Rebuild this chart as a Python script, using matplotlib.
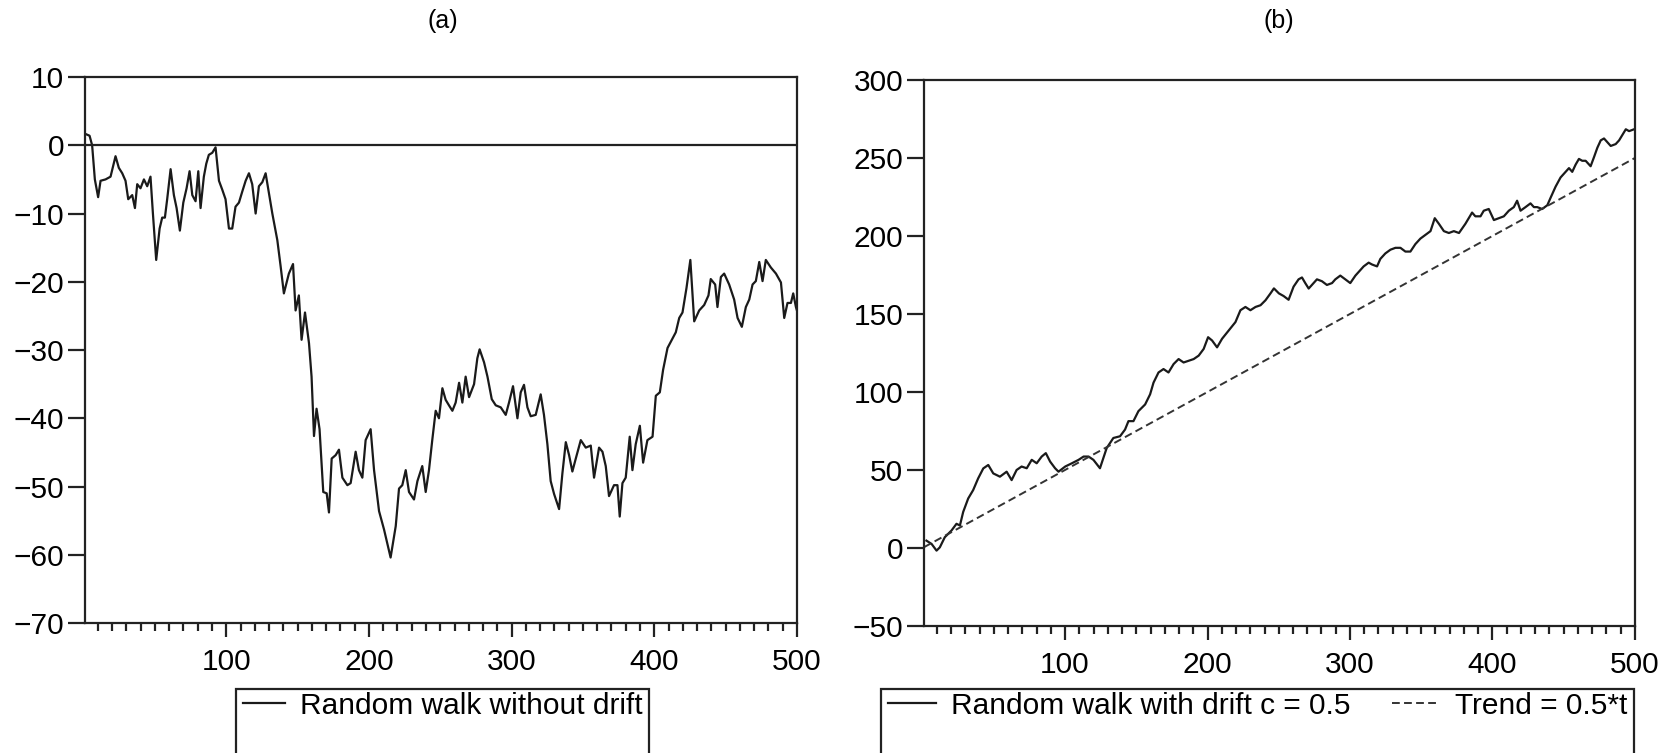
import numpy as np
import matplotlib
matplotlib.use('Agg')
import matplotlib.pyplot as plt
from matplotlib.patches import Rectangle
from matplotlib.transforms import IdentityTransform

plt.rcParams['font.family'] = ['Liberation Sans', 'DejaVu Sans']

# (a) random walk without drift
t_a = [2, 4.2, 6.0, 7.9, 10.2, 11.9, 15.4, 18.9, 22.4, 24.7, 27.1, 29.4, 31.3, 34.1, 36.0,
       37.6, 39.9, 42.3, 44.6, 46.9, 48.6, 50.9, 53.3, 55.1, 57.0, 58.6, 61.0, 63.3, 65.2,
       67.5, 69.9, 72.2, 74.3, 76.2, 78.5, 80.4, 82.0, 84.3, 86.0, 87.8, 90.2, 92.5, 94.9,
       97.2, 99.5, 101.9, 104.2, 106.5, 108.9, 111.2, 113.6, 115.9, 118.2, 120.6, 122.9,
       125.3, 127.6, 132.3, 135.8, 138.1, 140.4, 143.9, 146.8, 148.6, 150.9, 152.8, 155.2,
       158.0, 159.8, 161.5, 163.3, 165.4, 168.0, 170.4, 172.0, 173.9, 176.7, 179.0, 181.4,
       184.9, 187.2, 190.7, 193.0, 195.4, 197.7, 201.2, 203.6, 207.1, 210.6, 215.2, 218.8,
       221.1, 223.4, 225.8, 228.1, 231.6, 234.0, 237.4, 239.8, 242.1, 244.4, 246.8, 249.1,
       251.5, 253.8, 256.1, 258.5, 260.8, 263.2, 265.5, 267.8, 270.2, 273.7, 276.0, 277.6,
       280.7, 283.1, 286.1, 288.9, 292.4, 295.9, 298.2, 301.0, 304.1, 306.4, 308.7, 311.1,
       313.4, 316.9, 320.4, 322.7, 325.1, 327.4, 329.8, 333.3, 335.6, 338.0, 340.3, 342.6,
       345.0, 348.5, 352.0, 355.5, 357.8, 361.3, 363.7, 366.0, 368.3, 371.8, 374.2, 375.8,
       377.7, 380.0, 382.8, 384.7, 387.0, 389.9, 392.2, 395.2, 398.8, 401.1, 403.9, 406.2,
       409.3, 412.3, 415.1, 417.5, 419.8, 422.6, 425.3, 428.0, 431.5, 435.0, 438.0, 439.6,
       442.7, 444.3, 446.7, 449.0, 452.5, 456.0, 458.4, 461.4, 464.2, 466.6, 468.9, 471.2,
       473.6, 475.9, 478.2, 481.7, 485.3, 488.8, 491.1, 493.4, 495.8, 497.4, 499.3, 500]
y_a = [1.6, 1.4, 0, -5, -7.6, -5.2, -5, -4.6, -1.6, -3.3, -4.1, -5.2, -7.9, -7.3, -9.2,
       -5.7, -6.3, -5, -6, -4.6, -10, -16.8, -12.2, -10.6, -10.6, -7.9, -3.5, -7.3, -9.2,
       -12.5, -8.4, -6.3, -3.8, -7.3, -8.2, -3.8, -9.2, -4.6, -2.7, -1.4, -1.1, -0.3, -5.2,
       -6.5, -7.9, -12.2, -12.2, -9, -8.4, -6.8, -5.2, -4.1, -5.7, -10, -6,
       -5.4, -4.1, -10, -13.9, -17.7, -21.7, -18.8, -17.4, -24.2, -22, -28.5, -24.5,
       -29, -33.9, -42.6, -38.6, -41.6, -50.8, -51, -53.8, -45.9, -45.4, -44.6, -48.7,
       -49.8, -49.5, -44.9, -47.6, -48.7, -43.2, -41.6, -47.6, -53.6, -56.3, -60.4, -55.8,
       -50.3, -49.8, -47.6, -50.8, -51.9, -49.2, -47, -50.8, -47.6, -43.2, -38.9, -40,
       -35.6, -37.3, -38.1, -38.9, -37.7, -34.8, -37.7, -33.9, -36.9, -35, -31.2, -29.9,
       -31.8, -33.9, -37.2, -38.1, -38.4, -39.5, -37.7, -35.3, -40, -36.2, -35.1, -38.4,
       -39.7, -39.5, -36.5, -39.5, -43.8, -49.2, -51.1, -53.3, -48.1, -43.5, -45.4, -47.8,
       -45.9, -43.2, -44.3, -44, -48.7, -44.3, -44.9, -47, -51.4, -49.8, -49.8, -54.4,
       -49.5, -48.7, -42.7, -47.6, -43.8, -41.1, -46.5, -43.2, -42.7, -36.7, -36.2, -32.9,
       -29.7, -28.5, -27.4, -25.3, -24.5, -20.9, -16.8, -25.8, -24.2, -23.4, -22, -19.6,
       -20.4, -23.7, -19.3, -18.8, -20.4, -22.6, -25.3, -26.6, -23.7, -22.6, -20.4, -19.9,
       -17.1, -19.9, -16.8, -17.9, -18.8, -20.1, -25.3, -23.1, -23.1, -21.7, -23.7, -24.2]

# (b) random walk with drift c = 0.5
t_b = [2.7, 6.3, 9.8, 12.1, 15.6, 20.3, 23.8, 26.2, 28.5, 32.0, 35.5, 39.0, 42.6, 46.1,
       49.6, 54.3, 59.0, 62.5, 66.0, 69.5, 73.1, 76.6, 80.1, 83.6, 86.5, 89.5, 93.0, 95.4,
       100.1, 104.8, 109.5, 113.0, 116.5, 119.9, 124.5, 129.2, 133.9, 138.6, 142.1, 144.5,
       148.0, 151.5, 156.2, 159.7, 162.1, 165.6, 169.1, 172.6, 176.2, 179.7, 183.2, 186.7,
       190.3, 193.8, 197.3, 200.4, 203.2, 206.7, 210.2, 214.9, 219.6, 223.1, 226.6, 230.1,
       233.7, 237.2, 240.7, 244.2, 246.6, 250.1, 253.4, 256.9, 260.4, 263.9, 266.3, 268.6,
       271.0, 274.5, 276.8, 280.3, 283.8, 287.4, 289.7, 293.2, 296.7, 300.2, 303.8, 307.3,
       309.6, 313.1, 315.5, 319.0, 321.3, 324.8, 328.4, 331.9, 335.4, 338.9, 342.4, 345.9,
       349.4, 352.9, 356.5, 359.5, 362.4, 365.9, 369.4, 372.9, 376.5, 381.0, 385.7, 388.0,
       391.6, 393.9, 397.4, 401.0, 404.5, 408.0, 411.5, 415.0, 417.3, 419.7, 423.2, 426.7,
       429.1, 431.4, 434.9, 438.5, 440.8, 444.3, 447.8, 451.3, 453.7, 456.0, 458.4, 460.7,
       463.0, 465.4, 468.9, 471.3, 473.6, 476.0, 478.3, 480.7, 483.0, 486.5, 488.9, 491.2,
       493.6, 495.9, 499.4]
y_b = [4.7, 2.6, -1.7, 0.4, 6.9, 11.2, 15.5, 14.4, 23.1, 31.7, 37.1, 44.6, 51, 53.2,
       47.8, 45.7, 48.9, 43.5, 50, 52.2, 51.1, 56.5, 54.3, 58.6, 60.8, 55.4, 51.1, 48.9,
       52.2, 54.3, 56.5, 58.6, 58.6, 56.5, 51.1, 64, 70.5, 71.6, 75.9, 81.3,
       81.3, 87.7, 92, 98.5, 106, 112.5, 114.7, 112.5, 117.9, 121.1, 118.9, 120,
       121.1, 123.3, 127.6, 135.1, 133, 128.6, 134.1, 139.4, 144.8, 152.4, 154.5, 152.4,
       154.5, 155.6, 158.8, 163.2, 166.4, 163.2, 161.5, 159.1, 167.5, 172.2, 173.4, 169.8,
       166.3, 169.8, 172.2, 171, 168.6, 169.8, 172.2, 174.6, 172.2, 169.8, 174.6, 178.1,
       180.5, 182.9, 181.7, 180.5, 185.3, 188.8, 191.2, 192.4, 192.4, 190, 190, 194.8,
       198.3, 200.7, 203.1, 211.4, 207.8, 203.1, 201.9, 203.1, 201.9, 207.8, 215, 212.6,
       212.6, 216.2, 217.3, 210.2, 211.4, 212.6, 216.2, 218.5, 222.6, 216.2, 218.5, 220.9,
       218.5, 218.5, 217.3, 219.7, 224.5, 231.6, 237.5, 241.1, 243.5, 241.1, 245.8, 249.4,
       248.2, 248.2, 244.7, 250.6, 256.5, 261.3, 262.5, 260.1, 257.7, 258.9, 261.3, 264.8,
       268.4, 267.2, 268.4]

# trend = 0.5*t, end points
t_trend = [1, 500]
y_trend = [0.5, 250]

x_major = [100, 200, 300, 400, 500]
x_minor = np.arange(10, 500, 10)

line_col = '#1a1a1a'
fs = 21.5

fig = plt.figure(figsize=(16.7, 7.53), dpi=100)
ax1 = fig.add_axes([0.0509, 0.1726, 0.4263, 0.7251])
ax2 = fig.add_axes([0.5533, 0.1687, 0.4257, 0.7251])


def style_axis(ax):
    for s in ax.spines.values():
        s.set_linewidth(1.6)
        s.set_color('#222222')
    ax.set_xlim(1, 500)
    ax.set_xticks(x_major)
    ax.set_xticks(x_minor, minor=True)
    ax.tick_params(axis='both', which='major', direction='out', labelsize=fs,
                   width=1.6, color='#222222')
    ax.tick_params(axis='x', which='major', length=10, pad=8)
    ax.tick_params(axis='x', which='minor', length=6, width=1.6, color='#222222')
    ax.tick_params(axis='y', which='major', length=12, pad=3)
    ax.tick_params(axis='y', which='minor', left=False)


# Панель (a)
style_axis(ax1)
ax1.plot(t_a, y_a, color=line_col, lw=1.6, label='Random walk without drift')
ax1.axhline(0, color='#222222', lw=1.6)
ax1.set_ylim(-70, 10)
ax1.set_yticks(np.arange(-70, 11, 10))
fig.text(0.265, 0.972, '(a)', ha='center', va='center', fontsize=18)

# Панель (b)
style_axis(ax2)
ax2.plot(t_b, y_b, color=line_col, lw=1.6, label='Random walk with drift c = 0.5')
ax2.plot(t_trend, y_trend, color='#333333', lw=1.4, dashes=(4, 2.2), label='Trend = 0.5*t')
ax2.set_ylim(-50, 300)
ax2.set_yticks(np.arange(-50, 301, 50))
fig.text(0.766, 0.972, '(b)', ha='center', va='center', fontsize=18)

leg1 = ax1.legend(loc='upper center', bbox_to_anchor=(0.265, 0.105), bbox_transform=fig.transFigure,
                  frameon=False, fontsize=fs, handlelength=1.4, handletextpad=0.5, borderpad=0.1)
leg2 = ax2.legend(loc='upper center', bbox_to_anchor=(0.753, 0.105), bbox_transform=fig.transFigure,
                  frameon=False, fontsize=fs, ncol=2, handlelength=1.6, handletextpad=0.5,
                  columnspacing=1.4, borderpad=0.1)

# рамки легенд уходят за нижний край рисунка
fig.canvas.draw()
for leg in (leg1, leg2):
    bb = leg.get_window_extent()
    fig.patches.append(Rectangle((bb.x0 - 4, bb.y0 - 80), bb.width + 8, bb.height + 80,
                                 transform=IdentityTransform(), fill=False,
                                 ec='#222222', lw=1.6, figure=fig))

fig.savefig('out.png', dpi=100)
